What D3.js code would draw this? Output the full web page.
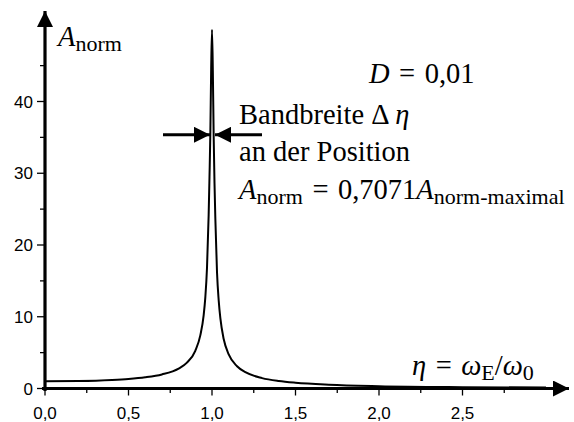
<!DOCTYPE html>
<html>
<head>
<meta charset="utf-8">
<script src="https://cdn.jsdelivr.net/npm/d3@7"></script>
<style>
  html, body { margin: 0; padding: 0; background: white; }
  .tick-label { font-family: 'Liberation Sans', Arial, sans-serif; font-size: 17px; fill: black; }
  .math { font-family: 'Liberation Serif', 'Times New Roman', serif; fill: black; }
</style>
</head>
<body>
<div class="canvas"></div>
<script>
'use strict';

// Values (eta = omega_E / omega_0, A_norm)
var ETA = [0, 0.2, 0.4, 0.5, 0.6, 0.7, 0.8, 0.85, 0.9, 0.93, 0.95, 0.96, 0.97, 0.98,
  0.985, 0.99, 0.995, 1.0, 1.005, 1.01, 1.015, 1.02, 1.03, 1.04, 1.05, 1.07, 1.1,
  1.15, 1.2, 1.3, 1.4, 1.5, 1.7, 2.0, 2.5, 3.0];
var A_NORM = [1.0, 1.04, 1.19, 1.33, 1.56, 1.96, 2.77, 3.6, 5.26, 7.4, 10.2, 12.7, 16.8, 24.2,
  29.5, 35.5, 44.5, 50, 44.3, 35.2, 28.6, 23.7, 16.2, 12.3, 9.8, 6.9, 4.75,
  3.1, 2.27, 1.45, 1.04, 0.8, 0.53, 0.33, 0.19, 0.13];

var X_TICKS = [0, 0.5, 1.0, 1.5, 2.0, 2.5];
var X_TICK_LABELS = ['0,0', '0,5', '1,0', '1,5', '2,0', '2,5'];
var X_MINOR_TICKS = [0.25, 0.75, 1.25, 1.75, 2.25, 2.75];
var Y_TICKS = [0, 10, 20, 30, 40];
var Y_MINOR_TICKS = [5, 15, 25, 35, 45];

var WIDTH = 574;
var HEIGHT = 422;
var FONT = 28.5;
var SUB = 22;
var SP = '\u2004'; // a bit wider than a normal space, like the equation editor

var x = d3.scaleLinear().domain([0, 1]).range([45, 212]);
var y = d3.scaleLinear().domain([0, 40]).range([388.5, 101.5]);

var svg = d3.select('.canvas').append('svg')
  .attr('width', WIDTH)
  .attr('height', HEIGHT);

var defs = svg.append('defs');
defs.append('marker')
  .attr('id', 'axisHead')
  .attr('viewBox', '0 0 16 16')
  .attr('refX', 16)
  .attr('refY', 8)
  .attr('markerWidth', 16)
  .attr('markerHeight', 16)
  .attr('markerUnits', 'userSpaceOnUse')
  .attr('orient', 'auto')
  .append('path')
  .attr('d', 'M0,0 L16,8 L0,16 Z')
  .attr('fill', 'black');

// Curve
var line = d3.line()
  .x(function(d) { return x(d[0]); })
  .y(function(d) { return y(d[1]); })
  .curve(d3.curveMonotoneX);

svg.append('path')
  .datum(d3.zip(ETA, A_NORM))
  .attr('d', line)
  .attr('fill', 'none')
  .attr('stroke', 'black')
  .attr('stroke-width', 2);

// X axis
var xAxis = svg.append('g').attr('transform', 'translate(0,' + y(0) + ')');
xAxis.selectAll('line.major')
  .data(X_TICKS)
  .enter()
  .append('line')
  .attr('x1', function(d) { return x(d); })
  .attr('x2', function(d) { return x(d); })
  .attr('y1', 0)
  .attr('y2', 7)
  .attr('stroke', 'black')
  .attr('stroke-width', 1.3);
xAxis.selectAll('line.minor')
  .data(X_MINOR_TICKS)
  .enter()
  .append('line')
  .attr('x1', function(d) { return x(d); })
  .attr('x2', function(d) { return x(d); })
  .attr('y1', 0)
  .attr('y2', 4.5)
  .attr('stroke', 'black')
  .attr('stroke-width', 1.3);
xAxis.selectAll('text')
  .data(X_TICKS)
  .enter()
  .append('text')
  .attr('class', 'tick-label')
  .attr('x', function(d) { return x(d); })
  .attr('y', 30.5)
  .attr('text-anchor', 'middle')
  .text(function(d, i) { return X_TICK_LABELS[i]; });
xAxis.append('line')
  .attr('x1', 42)
  .attr('x2', 569)
  .attr('y1', 0)
  .attr('y2', 0)
  .attr('stroke', 'black')
  .attr('stroke-width', 3.2)
  .attr('marker-end', 'url(#axisHead)');

// Y axis
var yAxis = svg.append('g').attr('transform', 'translate(' + x(0) + ',0)');
yAxis.selectAll('line.major')
  .data(Y_TICKS)
  .enter()
  .append('line')
  .attr('x1', -8)
  .attr('x2', 0)
  .attr('y1', function(d) { return y(d); })
  .attr('y2', function(d) { return y(d); })
  .attr('stroke', 'black')
  .attr('stroke-width', 1.3);
yAxis.selectAll('line.minor')
  .data(Y_MINOR_TICKS)
  .enter()
  .append('line')
  .attr('x1', -5)
  .attr('x2', 0)
  .attr('y1', function(d) { return y(d); })
  .attr('y2', function(d) { return y(d); })
  .attr('stroke', 'black')
  .attr('stroke-width', 1.3);
yAxis.selectAll('text')
  .data(Y_TICKS)
  .enter()
  .append('text')
  .attr('class', 'tick-label')
  .attr('x', -12)
  .attr('y', function(d) { return y(d) + 6; })
  .attr('text-anchor', 'end')
  .text(function(d) { return d; });
yAxis.append('line')
  .attr('x1', 0)
  .attr('x2', 0)
  .attr('y1', 391)
  .attr('y2', 11)
  .attr('stroke', 'black')
  .attr('stroke-width', 3.2)
  .attr('marker-end', 'url(#axisHead)');

// Text block helper: parts are [text, style] with style 'i' italic, 's' subscript
function mathText(px, py, parts) {
  var t = svg.append('text')
    .attr('class', 'math')
    .attr('x', px)
    .attr('y', py)
    .style('font-size', FONT + 'px');
  var shift = 4.5;
  var shifted = false;
  parts.forEach(function(p) {
    var span = t.append('tspan').text(p[0]);
    var style = p[1] || '';
    if (style.indexOf('i') !== -1) span.style('font-style', 'italic');
    if (style.indexOf('s') !== -1) {
      span.style('font-size', SUB + 'px');
      if (!shifted) { span.attr('dy', shift); shifted = true; }
    } else if (shifted) {
      span.attr('dy', -shift);
      shifted = false;
    }
  });
  return t;
}

mathText(58, 46, [['A', 'i'], ['norm', 's']]);
mathText(369, 83, [['D', 'i'], [SP + '=' + SP + '0,01']]);
mathText(239, 124, [['Bandbreite \u0394\u2009'], ['\u03b7', 'i']]);
mathText(239, 161, [['an der Position']]);
mathText(239, 199, [['A', 'i'], ['norm', 's'], [SP + '=' + SP + '0,7071'], ['A', 'i'], ['norm-maximal', 's']]);
mathText(412, 375, [['\u03b7', 'i'], [SP + '=' + SP], ['\u03c9', 'i'], ['E', 's'], ['/'], ['\u03c9', 'i'], ['0', 's']]);

// Bandwidth arrows
var ARROW_Y = y(35.36);
svg.append('line')
  .attr('x1', 163).attr('x2', 210)
  .attr('y1', ARROW_Y).attr('y2', ARROW_Y)
  .attr('stroke', 'black').attr('stroke-width', 3)
  .attr('marker-end', 'url(#axisHead)');
svg.append('line')
  .attr('x1', 262).attr('x2', 215)
  .attr('y1', ARROW_Y).attr('y2', ARROW_Y)
  .attr('stroke', 'black').attr('stroke-width', 3)
  .attr('marker-end', 'url(#axisHead)');
</script>
</body>
</html>
